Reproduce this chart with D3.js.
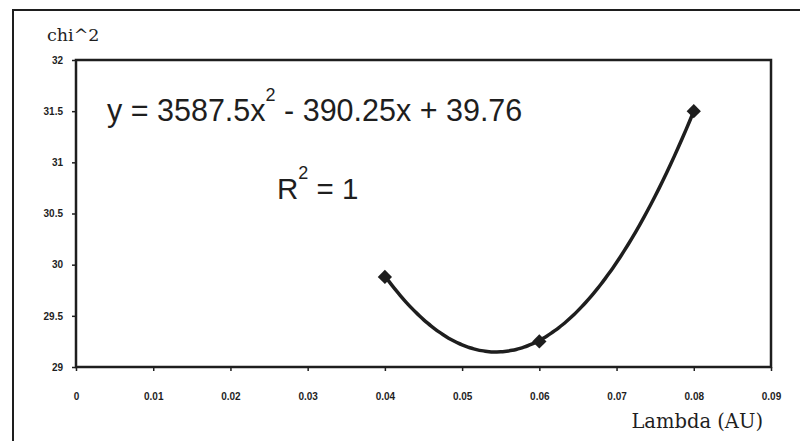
<!DOCTYPE html>
<html>
<head>
<meta charset="utf-8">
<script src="https://cdn.jsdelivr.net/npm/d3@7"></script>
<style>
  body { margin: 0; background: #fff; }
  svg { display: block; }
</style>
</head>
<body>
<svg id="chart"></svg>
<script>
// Data
const lambdaVals = [0.04, 0.06, 0.08];
const chiVals = [29.88, 29.25, 31.5];
const xTicks = [0, 0.01, 0.02, 0.03, 0.04, 0.05, 0.06, 0.07, 0.08, 0.09];
const yTicks = [29, 29.5, 30, 30.5, 31, 31.5, 32];
// trendline from the equation printed on the chart: a*x^2 + b*x + c
const fitCoef = [3587.5, -390.25, 39.76];

const width = 800, height = 441;
const ink = "#1e1e1e";

const svg = d3.select("#chart").attr("width", width).attr("height", height);

// outer chart border (runs off the right and bottom of the picture)
svg.append("rect")
    .attr("x", 13).attr("y", 10)
    .attr("width", 800).attr("height", 450)
    .attr("fill", "none").attr("stroke", ink).attr("stroke-width", 2);

const x = d3.scaleLinear().domain([0, 0.09]).range([76, 771]);
const y = d3.scaleLinear().domain([29, 32]).range([367, 60]);

// plot area frame
svg.append("rect")
    .attr("x", x(0)).attr("y", y(32))
    .attr("width", x(0.09) - x(0)).attr("height", y(29) - y(32))
    .attr("fill", "none").attr("stroke", ink).attr("stroke-width", 2.5);

// axes
const yAxis = d3.axisLeft(y).tickValues(yTicks).tickSize(4).tickPadding(9)
    .tickFormat(d => d3.format("")(d));
const xAxis = d3.axisBottom(x).tickValues(xTicks).tickSize(4).tickPadding(22)
    .tickFormat(d => d === 0 ? "0" : d3.format(".2f")(d));

const gy = svg.append("g").attr("transform", `translate(${x(0)},0)`).call(yAxis);
const gx = svg.append("g").attr("transform", `translate(0,${y(29)})`).call(xAxis);

[gx, gy].forEach(g => {
    g.select(".domain").remove();
    g.selectAll(".tick line").attr("stroke", ink).attr("stroke-width", 1.5);
    g.selectAll(".tick text")
        .attr("fill", ink)
        .style("font-family", "'Liberation Sans', Arial, sans-serif")
        .style("font-weight", "bold")
        .style("font-size", "10px");
});

// trendline
const fit = v => fitCoef[0] * v * v + fitCoef[1] * v + fitCoef[2];
const curveX = d3.range(lambdaVals[0], lambdaVals[2] + 0.00001, 0.0005);
svg.append("path")
    .datum(curveX)
    .attr("fill", "none")
    .attr("stroke", ink)
    .attr("stroke-width", 3.5)
    .attr("stroke-linecap", "round")
    .attr("d", d3.line().x(d => x(d)).y(d => y(fit(d))).curve(d3.curveMonotoneX));

// markers
const pts = lambdaVals.map((v, i) => ({ x: v, y: chiVals[i] }));
svg.selectAll(".pt")
    .data(pts)
    .join("path")
    .attr("class", "pt")
    .attr("transform", d => `translate(${x(d.x)},${y(d.y)})`)
    .attr("d", d3.symbol(d3.symbolDiamond2, 130)())
    .attr("fill", ink);

// labels
svg.append("text")
    .attr("x", 47).attr("y", 41)
    .attr("fill", ink)
    .style("font-family", "'DejaVu Serif', serif")
    .style("font-size", "17.5px")
    .text("chi^2");

svg.append("text")
    .attr("x", 763).attr("y", 428)
    .attr("text-anchor", "end")
    .attr("fill", ink)
    .style("font-family", "'DejaVu Serif', serif")
    .style("font-size", "19.5px")
    .text("Lambda (AU)");

const eq = svg.append("text")
    .attr("x", 107).attr("y", 121)
    .attr("fill", ink)
    .style("font-family", "'Liberation Sans', Arial, sans-serif")
    .style("font-size", "30.5px");
eq.append("tspan").text(`y = ${fitCoef[0]}x`);
eq.append("tspan").attr("dy", -20).style("font-size", "18px").text("2");
eq.append("tspan").attr("dy", 20)
    .text(` - ${Math.abs(fitCoef[1])}x + ${fitCoef[2]}`);

const r2 = svg.append("text")
    .attr("x", 277).attr("y", 199)
    .attr("fill", ink)
    .style("font-family", "'Liberation Sans', Arial, sans-serif")
    .style("font-size", "29.5px");
r2.append("tspan").text("R");
r2.append("tspan").attr("dy", -20).style("font-size", "18px").text("2");
r2.append("tspan").attr("dy", 20).text(" = 1");
</script>
</body>
</html>
